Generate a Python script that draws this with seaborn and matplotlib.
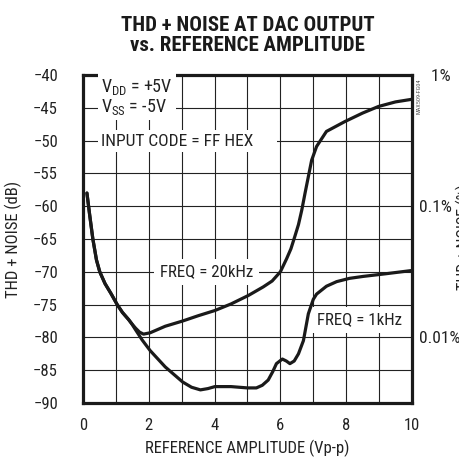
import matplotlib
matplotlib.use("Agg")
import matplotlib.pyplot as plt
from matplotlib import font_manager
import seaborn as sns
import pandas as pd

# THD+N vs reference amplitude
amp_20k = [0.12, 0.2, 0.3, 0.41, 0.51, 0.67, 0.85, 1.04, 1.2, 1.39, 1.48, 1.6, 1.72, 1.84,
           2.04, 2.5, 3.03, 3.5, 4.01, 4.5, 5.03, 5.48, 5.75, 6.0, 6.19, 6.32, 6.44, 6.55,
           6.65, 6.75, 6.85, 6.95, 7.1, 7.4, 7.96, 8.5, 8.98, 9.5, 10.0]
thd_20k = [-58, -61.2, -65, -68.2, -70, -71.8, -73.3, -75, -76.2, -77.3, -77.9, -78.6, -79.2, -79.5,
           -79.3, -78.3, -77.5, -76.7, -75.9, -74.9, -73.6, -72.3, -71.4, -70.0, -68.0, -66.5, -64.6, -62.8,
           -60.6, -58, -55.5, -53, -50.9, -48.6, -47.1, -45.8, -44.8, -44.1, -43.7]

amp_1k = [0.12, 0.2, 0.3, 0.41, 0.51, 0.67, 0.85, 1.04, 1.2, 1.39, 1.48, 1.58, 1.8, 2.04,
          2.5, 3.03, 3.3, 3.57, 3.8, 4.01, 4.5, 5.0, 5.27, 5.45, 5.63, 5.77, 5.88, 6.06,
          6.18, 6.29, 6.42, 6.55, 6.7, 6.85, 7.0, 7.1, 7.4, 7.71, 8.1, 8.52, 9.2, 10.0]
thd_1k = [-58, -61.2, -65, -68.2, -70, -71.8, -73.3, -75, -76.2, -77.3, -77.9, -78.7, -80.4, -82.0,
          -84.5, -86.8, -87.6, -88.0, -87.8, -87.5, -87.5, -87.7, -87.7, -87.3, -86.5, -85.2, -84, -83.3,
          -83.6, -84, -83.6, -82.5, -80.5, -76.4, -74.2, -73.4, -72.2, -71.5, -71.0, -70.7, -70.3, -69.8]

x_ticks = [0, 2, 4, 6, 8, 10]
y_ticks = [-40, -45, -50, -55, -60, -65, -70, -75, -80, -85, -90]
pct_ticks = [-40, -60, -80]
pct_labels = ["   1%", "0.1%", "0.01%"]

# pick a narrow face if one is installed
fonts = font_manager.fontManager.ttflist
names = {f.name for f in fonts}
stretch = 'normal'
if 'Liberation Sans Narrow' in names:
    family = 'Liberation Sans Narrow'
elif 'Roboto Condensed' in names:
    family = 'Roboto Condensed'
elif any(f.name == 'DejaVu Sans' and 'ondensed' in str(f.stretch) for f in fonts):
    family, stretch = 'DejaVu Sans', 'condensed'
else:
    family = 'Roboto'

sns.set_theme(style="white")
plt.rcParams['font.family'] = [family, 'DejaVu Sans']
plt.rcParams['font.stretch'] = stretch
plt.rcParams['mathtext.default'] = 'regular'

fig = plt.figure(figsize=(4.6, 4.59), dpi=100)
ax = fig.add_axes([0.1804, 0.122, 0.7152, 0.7146])

df = pd.concat([pd.DataFrame({'amp': amp_20k, 'thd': thd_20k, 'freq': '20k'}),
                pd.DataFrame({'amp': amp_1k, 'thd': thd_1k, 'freq': '1k'})])
sns.lineplot(data=df, x='amp', y='thd', units='freq', estimator=None, sort=False,
             color='#1a1a1a', lw=2.3, ax=ax, zorder=4)

ax.set_xlim(0, 10)
ax.set_ylim(-90, -40)
ax.set_xticks(x_ticks)
ax.set_xticks(range(0, 11), minor=True)
ax.set_yticks(y_ticks)
ax.grid(True, which='both', color='#222222', lw=0.8)
ax.tick_params(which='both', length=0, labelsize=12, colors='#222222')
ax.tick_params(axis='x', pad=11)
ax.tick_params(axis='y', pad=18)
for s in ax.spines.values():
    s.set_linewidth(2.3)
    s.set_color('#1a1a1a')

ax.set_xlabel('REFERENCE AMPLITUDE (Vp-p)', fontsize=12, color='#222222', labelpad=5)
ax.set_ylabel('THD + NOISE (dB)', fontsize=12, color='#222222')
ax.yaxis.set_label_coords(-0.185, 0.5)
ax.set_title('THD + NOISE AT DAC OUTPUT\nvs. REFERENCE AMPLITUDE', fontsize=15,
             fontweight='bold', color='#1a1a1a', pad=17, linespacing=1.1)

box = dict(facecolor='white', edgecolor='none', pad=2.5)
ax.text(0.55, -43.3, 'V$_{DD}$ = +5V\nV$_{SS}$ = -5V', fontsize=13, va='center',
        linespacing=1.0, color='#222222', bbox=box, zorder=3)
ax.text(0.55, -50.1, 'INPUT CODE = FF HEX     ', fontsize=12.5, va='center',
        color='#222222', bbox=box, zorder=3)
ax.text(3.75, -70.0, 'FREQ = 20kHz', fontsize=12.2, ha='center', va='center',
        color='#222222', bbox=dict(facecolor='white', edgecolor='none', pad=4), zorder=3)
ax.text(8.4, -77.3, 'FREQ = 1kHz', fontsize=12.2, ha='center', va='center',
        color='#222222', bbox=dict(facecolor='white', edgecolor='none', pad=4), zorder=3)

ax2 = ax.twinx()
ax2.set_ylim(-90, -40)
ax2.set_yticks(pct_ticks)
ax2.set_yticklabels(pct_labels)
ax2.tick_params(length=0, labelsize=12.5, colors='#222222', pad=5)
for s in ax2.spines.values():
    s.set_visible(False)

fig.text(0.911, 0.79, 'MAX509-FG04', rotation=90, fontsize=4.5, color='#555555',
         ha='center', va='center')
fig.text(0.991, 0.484, 'THD + NOISE (%)', rotation=90, fontsize=11.5, color='#222222',
         ha='left', va='center')

fig.savefig('out.png', dpi=100)
